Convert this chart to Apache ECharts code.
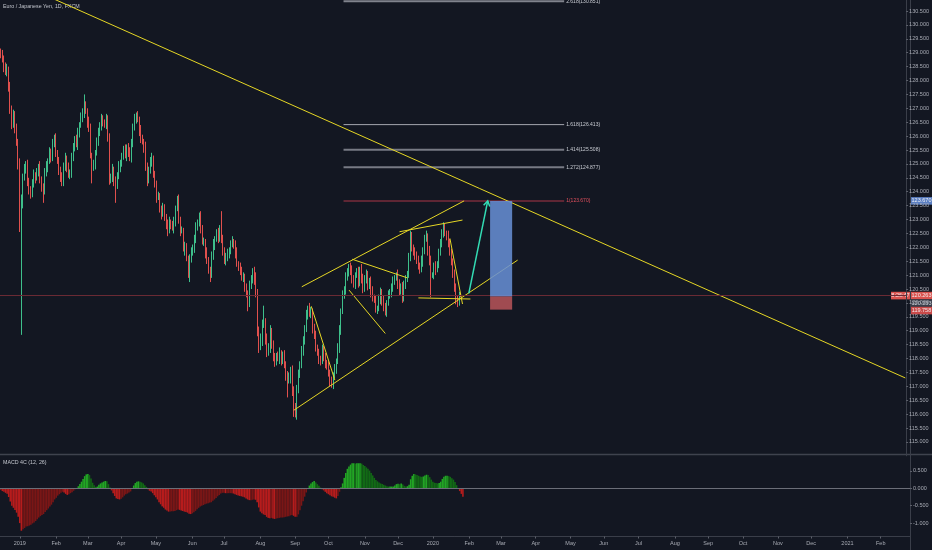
<!DOCTYPE html>
<html><head><meta charset="utf-8">
<script src="https://cdn.jsdelivr.net/npm/echarts@6/dist/echarts.min.js"></script>
<style>html,body{margin:0;padding:0;background:#131722;}#c{width:932px;height:550px;}</style>
</head><body><div id="c"></div><script>
// ---------------- DATA ----------------
const titleText = 'Euro / Japanese Yen, 1D, FXCM';
const macdTitle = 'MACD 4C (12, 26)';
const firstDate = '2018-12-14';
const barsInView = 575;            // trading-day slots shown on the time axis
const firstOpen = 129.0;
const closes = [
128.9,128.8,128.5,128.3,128.4,127.8,126.9,126.4,126.8,126.3,
125.8,125.0,122.7,123.6,124.5,124.8,125.0,124.3,124.1,123.9,
124.3,124.6,124.5,124.7,124.9,124.4,124.2,124.0,124.7,124.9,
125.1,125.4,125.2,125.8,125.9,125.4,125.1,124.8,124.5,124.3,
124.9,125.2,124.9,124.6,124.7,125.2,125.6,125.9,125.7,126.1,
126.4,126.7,126.8,127.1,126.9,126.5,126.3,125.3,124.9,125.0,
125.4,125.8,126.1,126.4,126.6,126.5,126.4,126.6,126.0,124.4,
124.5,124.8,124.4,124.2,124.6,124.9,125.0,125.3,125.5,125.3,
125.6,125.4,125.2,125.8,126.3,126.6,126.75,126.6,126.2,125.9,
125.8,125.6,124.9,124.4,124.8,125.1,125.2,124.6,124.3,123.8,
123.8,123.4,123.2,123.4,123.1,122.85,122.6,122.9,122.8,122.7,
122.9,123.4,123.7,123.0,122.6,122.6,122.0,122.0,121.6,121.1,
121.6,121.8,122.0,122.3,122.7,122.9,123.1,122.7,122.2,122.2,
121.8,121.5,121.2,121.0,121.7,122.1,122.3,122.5,122.3,122.7,
122.3,121.9,121.5,121.6,121.8,121.9,122.1,122.2,122.1,121.8,
121.4,121.3,121.2,120.9,120.9,120.6,120.3,120.0,120.6,120.9,
121.1,120.8,120.3,119.0,118.5,118.6,119.2,119.3,118.7,118.2,
118.4,119.0,118.5,118.0,117.9,118.1,118.0,118.2,117.9,118.1,
117.8,117.4,117.2,117.3,117.6,116.8,116.3,116.0,116.9,117.4,
117.8,118.3,118.6,119.1,119.6,119.8,119.6,119.7,119.1,118.8,
118.4,118.2,118.0,117.9,118.3,118.1,117.8,117.7,117.5,117.2,
117.1,117.4,117.6,117.9,118.4,119.0,119.7,120.3,120.5,120.9,
121.1,121.3,121.2,120.8,120.7,121.0,121.1,120.7,121.2,120.9,
120.5,120.9,121.0,120.6,120.8,120.4,120.2,120.1,119.8,119.8,
120.1,120.4,120.1,119.8,119.7,120.0,120.3,120.4,120.5,120.8,
120.9,121.0,120.7,120.4,120.6,120.2,120.6,120.9,121.0,121.7,
122.4,122.0,121.8,121.7,121.6,121.3,121.2,121.5,121.9,122.3,
122.4,121.9,121.5,121.0,121.0,121.3,121.2,121.4,121.8,122.2,
122.5,122.7,122.5,122.4,122.2,121.8,121.5,121.0,120.6,120.1,
120.0,120.3,120.263];
const upperWicks = [
0.15,0.2,0.1,0.15,0.2,0.1,0.15,0.2,0.15,0.1,
0.15,0.1,0.2,0.3,0.15,0.2,0.1,0.15,0.2,0.1,
0.15,0.2,0.1,0.15,0.1,0.2,0.15,0.1,0.15,0.2,
0.1,0.2,0.15,0.1,0.15,0.2,0.1,0.15,0.1,0.2,
0.15,0.2,0.1,0.15,0.1,0.2,0.15,0.1,0.15,0.2,
0.1,0.15,0.2,0.4,0.15,0.1,0.2,0.15,0.1,0.15,
0.1,0.15,0.2,0.1,0.2,0.15,0.1,0.2,0.15,0.1,
0.15,0.2,0.1,0.15,0.1,0.2,0.15,0.1,0.15,0.2,
0.1,0.15,0.2,0.1,0.15,0.2,0.1,0.15,0.1,0.2,
0.15,0.1,0.2,0.15,0.1,0.15,0.2,0.1,0.15,0.1,
0.2,0.15,0.1,0.2,0.15,0.1,0.15,0.2,0.1,0.15,
0.2,0.1,0.15,0.2,0.1,0.15,0.1,0.2,0.15,0.1,
0.15,0.2,0.1,0.15,0.2,0.1,0.15,0.2,0.1,0.15,
0.1,0.2,0.15,0.1,0.15,0.2,0.1,0.15,0.2,0.1,
0.6,0.15,0.1,0.2,0.15,0.1,0.15,0.2,0.1,0.15,
0.2,0.1,0.15,0.1,0.2,0.15,0.1,0.15,0.2,0.1,
0.15,0.2,0.3,0.2,0.15,0.3,0.2,0.6,0.15,0.2,
0.15,0.2,0.1,0.15,0.2,0.1,0.15,0.2,0.1,0.15,
0.2,0.1,0.15,0.2,0.1,0.15,0.2,0.1,0.15,0.2,
0.1,0.15,0.2,0.1,0.15,0.1,0.2,0.15,0.1,0.15,
0.2,0.1,0.15,0.1,0.2,0.15,0.1,0.15,0.2,0.1,
0.15,0.1,0.2,0.1,0.15,0.2,0.1,0.15,0.1,0.2,
0.15,0.1,0.15,0.15,0.2,0.1,0.15,0.2,0.1,0.2,
0.15,0.1,0.2,0.15,0.1,0.15,0.2,0.1,0.15,0.1,
0.2,0.15,0.1,0.15,0.2,0.1,0.15,0.1,0.2,0.15,
0.1,0.1,0.2,0.15,0.1,0.15,0.2,0.1,0.15,0.1,
0.2,0.15,0.1,0.2,0.15,0.1,0.15,0.2,0.1,0.15,
0.2,0.1,0.15,0.2,0.1,0.15,0.2,0.1,0.15,0.1,
0.15,0.2,0.15,0.1,0.2,0.1,0.15,0.1,0.2,0.1,
0.15,0.1,0.05];
const lowerWicks = [
0.1,0.15,0.2,0.1,0.15,0.2,0.1,0.15,0.1,0.2,
0.15,0.2,0.15,3.85,0.2,0.1,0.15,0.1,0.2,0.15,
0.1,0.15,0.2,0.1,0.15,0.1,0.2,0.4,0.1,0.15,
0.2,0.1,0.15,0.1,0.2,0.15,0.1,0.2,0.15,0.1,
0.1,0.15,0.2,0.1,0.15,0.2,0.1,0.15,0.1,0.2,
0.15,0.1,0.2,0.15,0.1,0.2,0.15,0.1,0.6,0.15,
0.2,0.1,0.15,0.1,0.2,0.15,0.1,0.15,0.2,0.15,
0.1,0.15,0.2,0.6,0.1,0.15,0.2,0.1,0.15,0.1,
0.2,0.15,0.1,0.15,0.2,0.1,0.15,0.1,0.2,0.15,
0.1,0.2,0.15,0.2,0.1,0.15,0.2,0.1,0.15,0.2,
0.1,0.15,0.2,0.1,0.15,0.2,0.2,0.1,0.15,0.1,
0.2,0.15,0.1,0.15,0.2,0.1,0.15,0.3,0.1,0.2,
0.35,0.15,0.1,0.2,0.15,0.1,0.15,0.2,0.1,0.15,
0.2,0.1,0.15,0.25,0.1,0.15,0.2,0.1,0.15,0.1,
0.15,0.2,0.1,0.15,0.1,0.2,0.15,0.1,0.15,0.2,
0.1,0.15,0.2,0.1,0.15,0.2,0.1,0.3,0.15,0.1,
0.2,0.15,0.1,0.2,0.3,0.2,0.15,0.1,0.2,0.15,
0.1,0.2,0.15,0.1,0.2,0.15,0.1,0.2,0.15,0.1,
0.15,0.2,0.6,0.1,0.2,0.15,0.4,0.12,0.2,0.15,
0.1,0.15,0.2,0.1,0.15,0.2,0.1,0.15,0.2,0.1,
0.15,0.1,0.2,0.15,0.1,0.2,0.15,0.1,0.15,0.2,
0.15,0.2,0.1,0.15,0.1,0.2,0.15,0.1,0.15,0.2,
0.1,0.15,0.2,0.1,0.15,0.2,0.1,0.15,0.1,0.2,
0.15,0.1,0.2,0.15,0.1,0.2,0.15,0.1,0.15,0.2,
0.1,0.15,0.2,0.1,0.15,0.2,0.1,0.15,0.2,0.1,
0.15,0.1,0.2,0.15,0.1,0.2,0.15,0.1,0.15,0.1,
0.2,0.15,0.1,0.15,0.2,0.1,0.15,0.1,0.2,0.15,
0.1,0.2,0.15,0.8,0.1,0.15,0.2,0.1,0.15,0.1,
0.2,0.15,0.1,0.15,0.2,0.1,0.15,0.1,0.2,0.15,
0.15,0.1,0.05];
const macdValues = [
-0.05,-0.08,-0.10,-0.13,-0.16,-0.25,-0.38,-0.50,-0.56,-0.62,
-0.70,-0.82,-1.00,-1.22,-1.18,-1.14,-1.10,-1.09,-1.07,-1.05,
-1.01,-0.98,-0.94,-0.89,-0.84,-0.80,-0.77,-0.74,-0.68,-0.63,
-0.58,-0.52,-0.47,-0.40,-0.32,-0.27,-0.21,-0.17,-0.13,-0.10,
-0.12,-0.16,-0.19,-0.17,-0.14,-0.11,-0.07,-0.03,0.01,0.06,
0.12,0.19,0.27,0.35,0.40,0.41,0.38,0.28,0.16,0.09,
0.04,0.05,0.10,0.14,0.17,0.19,0.21,0.20,0.12,0.02,
-0.06,-0.14,-0.22,-0.29,-0.31,-0.32,-0.30,-0.26,-0.21,-0.17,
-0.15,-0.12,-0.09,0.01,0.08,0.15,0.19,0.20,0.19,0.17,
0.14,0.09,0.04,-0.03,-0.07,-0.09,-0.14,-0.20,-0.26,-0.32,
-0.40,-0.46,-0.52,-0.56,-0.61,-0.64,-0.67,-0.67,-0.66,-0.66,
-0.65,-0.63,-0.61,-0.62,-0.64,-0.65,-0.67,-0.68,-0.70,-0.73,
-0.74,-0.72,-0.69,-0.65,-0.60,-0.56,-0.52,-0.50,-0.48,-0.46,
-0.44,-0.43,-0.41,-0.40,-0.36,-0.32,-0.28,-0.23,-0.19,-0.15,
-0.13,-0.13,-0.14,-0.14,-0.14,-0.14,-0.14,-0.15,-0.17,-0.19,
-0.21,-0.22,-0.23,-0.24,-0.26,-0.29,-0.32,-0.34,-0.34,-0.33,
-0.32,-0.33,-0.40,-0.55,-0.67,-0.72,-0.75,-0.77,-0.82,-0.85,
-0.86,-0.85,-0.87,-0.88,-0.87,-0.86,-0.85,-0.84,-0.84,-0.83,
-0.82,-0.81,-0.80,-0.78,-0.77,-0.79,-0.82,-0.82,-0.75,-0.63,
-0.50,-0.37,-0.24,-0.12,0.00,0.08,0.14,0.18,0.21,0.17,
0.12,0.07,0.02,-0.03,-0.06,-0.10,-0.14,-0.17,-0.20,-0.23,
-0.24,-0.27,-0.29,-0.22,-0.10,0.03,0.14,0.30,0.44,0.56,
0.63,0.68,0.72,0.72,0.71,0.72,0.72,0.72,0.71,0.67,
0.64,0.60,0.56,0.51,0.44,0.37,0.30,0.24,0.20,0.17,
0.14,0.12,0.10,0.08,0.06,0.05,0.05,0.05,0.05,0.08,
0.12,0.13,0.12,0.14,0.11,0.07,0.05,0.06,0.10,0.26,
0.36,0.41,0.40,0.38,0.36,0.34,0.33,0.34,0.37,0.39,
0.38,0.32,0.25,0.19,0.16,0.15,0.14,0.15,0.19,0.27,
0.33,0.36,0.36,0.35,0.33,0.29,0.25,0.18,0.09,0.01,
-0.08,-0.16,-0.24];
const monthLabels = ['2019','Feb','Mar','Apr','May','Jun','Jul','Aug','Sep','Oct','Nov','Dec',
  '2020','Feb','Mar','Apr','May','Jun','Jul','Aug','Sep','Oct','Nov','Dec','2021','Feb'];
const lastPrice = 120.263;
const countdownText = '8:26:47';
const fibRatios = [1, 1.272, 1.414, 1.618, 2.618];
const fibPrices = [123.670, 124.877, 125.508, 126.413, 130.851];
const fibDates = ['2019-10-16', '2020-04-28'];
const positionDates = ['2020-02-24', '2020-03-12'];
const positionPrices = [120.233, 123.670, 119.758];   // entry, target, stop
const arrowPoints = [['2020-02-04', 120.34], ['2020-02-20', 123.67]];
const trendLines = [
  [['2019-01-28', 131.00], ['2021-02-25', 117.30]],
  [['2019-09-09', 120.58], ['2020-01-30', 123.67]],
  [['2019-09-02', 116.14], ['2020-03-18', 121.54]],
  [['2019-09-17', 119.88], ['2019-10-08', 117.22]],
  [['2019-10-23', 121.57], ['2019-12-11', 120.90]],
  [['2019-10-21', 120.46], ['2019-11-21', 118.90]],
  [['2019-12-04', 122.56], ['2020-01-29', 122.98]],
  [['2020-01-17', 122.32], ['2020-01-29', 119.96]],
  [['2019-12-20', 120.18], ['2020-02-05', 120.14]]
];

// ---------------- BUILD ----------------
const categories = [];
(function () {
  const p = firstDate.split('-').map(Number);
  const d = new Date(Date.UTC(p[0], p[1] - 1, p[2]));
  while (categories.length < barsInView) {
    const wd = d.getUTCDay();
    if (wd !== 0 && wd !== 6) categories.push(d.toISOString().slice(0, 10));
    d.setUTCDate(d.getUTCDate() + 1);
  }
})();
const at = (date) => { const i = categories.indexOf(date); if (i < 0) throw new Error('date not on axis: ' + date); return i; };

const monthLabelAt = {};
(function () {
  let k = 0;
  for (let i = 1; i < categories.length; i++) {
    if (categories[i].slice(0, 7) !== categories[i - 1].slice(0, 7)) {
      if (k < monthLabels.length) monthLabelAt[i] = monthLabels[k];
      k++;
    }
  }
})();

const candles = closes.map((c, i) => {
  const o = i ? closes[i - 1] : firstOpen;
  return [o, c, Math.min(o, c) - lowerWicks[i], Math.max(o, c) + upperWicks[i]];
});

const MACD_UP_RISE = '#22a524', MACD_UP_FALL = '#126a15', MACD_DN_FALL = '#b71c1c', MACD_DN_RISE = '#7a1616';
const macdBars = macdValues.map((v, i) => {
  const prev = i ? macdValues[i - 1] : v;
  let col;
  if (v >= 0) col = v >= prev ? MACD_UP_RISE : MACD_UP_FALL;
  else col = v < prev ? MACD_DN_FALL : MACD_DN_RISE;
  return { value: v, itemStyle: { color: col } };
});

const FONT = '"Liberation Sans",Arial,sans-serif';
const AXIS_TEXT = '#a9acb5';
const LINE_COL = '#3a3e49';
const YELLOW = '#e6d725';
const fibLineColors = ['#7a2c3b', '#777a84', '#777a84', '#a4a7b0', '#80838d'];
const fibLineWidths = [1.5, 2, 2, 1, 2];
const fibTextColors = ['#e0505e', '#c9ccd3', '#c9ccd3', '#c9ccd3', '#c9ccd3'];

const chart = echarts.init(document.getElementById('c'), null, { renderer: 'canvas' });

const grids = [
  { left: 0, right: 22, top: 0, height: 455.8 },
  { left: 0, right: 22, top: 453.5, height: 87 },
  { left: 0, right: 22, top: 453.5, height: 83 }
];
const catAxis = (gi, extra) => Object.assign({
  type: 'category', gridIndex: gi, data: categories, boundaryGap: true,
  axisLine: { show: false }, axisTick: { show: false }, axisLabel: { show: false }, splitLine: { show: false }
}, extra || {});

const option = {
  backgroundColor: '#131722',
  animation: false,
  grid: grids,
  xAxis: [
    catAxis(0),
    catAxis(1),
    catAxis(2, {
      axisLine: { show: true, lineStyle: { color: LINE_COL, width: 1 } },
      axisTick: { show: true, length: 2, alignWithLabel: true, interval: (i) => monthLabelAt[i] !== undefined, lineStyle: { color: '#5d606b' } },
      axisLabel: { show: true, interval: (i) => monthLabelAt[i] !== undefined, formatter: (v, i) => monthLabelAt[i] || '',
        color: AXIS_TEXT, fontSize: 5.5, fontFamily: FONT, margin: 4 }
    })
  ],
  yAxis: [
    { type: 'value', gridIndex: 0, position: 'right', min: 114.5, max: 130.896, interval: 0.5,
      axisLine: { show: true, lineStyle: { color: LINE_COL } },
      axisTick: { show: true, length: 2, lineStyle: { color: '#5d606b' } },
      splitLine: { show: false },
      axisLabel: { color: AXIS_TEXT, fontSize: 5.5, fontFamily: FONT, margin: 3, showMinLabel: false, showMaxLabel: false,
        formatter: (v) => v.toFixed(3) } },
    { type: 'value', gridIndex: 1, position: 'right', min: -1.5, max: 1.0, interval: 0.5,
      axisLine: { show: true, lineStyle: { color: LINE_COL } },
      axisTick: { show: true, length: 2, lineStyle: { color: '#5d606b' } },
      splitLine: { show: false },
      axisLabel: { color: AXIS_TEXT, fontSize: 5.5, fontFamily: FONT, margin: 3, showMinLabel: false, showMaxLabel: false,
        formatter: (v) => v.toFixed(3) } },
    { type: 'value', gridIndex: 2, min: 0, max: 1, show: false }
  ],
  series: [
    {
      type: 'candlestick', xAxisIndex: 0, yAxisIndex: 0, data: candles, barWidth: 0.7, z: 2,
      itemStyle: { color: '#3ebf8b', color0: '#e0504d', borderColor: '#3ebf8b', borderColor0: '#e0504d', borderWidth: 1 },
      markLine: { silent: true, symbol: 'none', label: { show: false },
        lineStyle: { color: '#6a2a34', width: 1, type: 'solid' }, data: [{ yAxis: lastPrice }] }
    },
    {
      type: 'custom', xAxisIndex: 0, yAxisIndex: 0, z: 3, silent: true,
      encode: { x: [0, 1], y: 2 },
      data: fibPrices.map((p) => [at(fibDates[0]), at(fibDates[1]), p]),
      renderItem: (params, api) => {
        const k = params.dataIndex;
        const a = api.coord([api.value(0), api.value(2)]);
        const b = api.coord([api.value(1), api.value(2)]);
        const bw = api.size([1, 0])[0];
        const x1 = a[0] - bw / 2, x2 = b[0] + bw / 2;
        return { type: 'group', children: [
          { type: 'line', shape: { x1: x1, y1: a[1], x2: x2, y2: a[1] }, style: { stroke: fibLineColors[k], lineWidth: fibLineWidths[k] } },
          { type: 'text', x: x2 + 2, y: a[1], style: { text: fibRatios[k] + '(' + fibPrices[k].toFixed(3) + ')',
            fill: fibTextColors[k], font: '5px ' + FONT, verticalAlign: 'middle', align: 'left' } }
        ] };
      }
    },
    ...trendLines.map((seg) => ({
      type: 'line', xAxisIndex: 0, yAxisIndex: 0, z: 4, silent: true, showSymbol: false, symbol: 'none',
      lineStyle: { color: YELLOW, width: 1 },
      data: seg.map((pt) => [at(pt[0]), pt[1]])
    })),
    {
      type: 'custom', xAxisIndex: 0, yAxisIndex: 0, z: 5, silent: true,
      encode: { x: [0, 1], y: [2, 3, 4] },
      data: [[at(positionDates[0]), at(positionDates[1]), positionPrices[0], positionPrices[1], positionPrices[2]]],
      renderItem: (params, api) => {
        const bw = api.size([1, 0])[0];
        const e = api.coord([api.value(0), api.value(2)]);
        const t = api.coord([api.value(0), api.value(3)]);
        const s = api.coord([api.value(0), api.value(4)]);
        const xr = api.coord([api.value(1), api.value(2)]);
        const x0 = e[0] - bw / 2, x1 = xr[0] + bw / 2;
        return { type: 'group', children: [
          { type: 'rect', shape: { x: x0, y: t[1], width: x1 - x0, height: e[1] - t[1] }, style: { fill: 'rgba(104,143,214,0.86)' } },
          { type: 'rect', shape: { x: x0, y: e[1], width: x1 - x0, height: s[1] - e[1] }, style: { fill: 'rgba(184,84,90,0.86)' } }
        ] };
      }
    },
    {
      type: 'custom', xAxisIndex: 0, yAxisIndex: 0, z: 6, silent: true,
      encode: { x: [0, 2], y: [1, 3] },
      data: [[at(arrowPoints[0][0]), arrowPoints[0][1], at(arrowPoints[1][0]), arrowPoints[1][1]]],
      renderItem: (params, api) => {
        const a = api.coord([api.value(0), api.value(1)]);
        const b = api.coord([api.value(2), api.value(3)]);
        const ang = Math.atan2(b[1] - a[1], b[0] - a[0]);
        const L = 6, sp = 0.55;
        const p1 = [b[0] - L * Math.cos(ang - sp), b[1] - L * Math.sin(ang - sp)];
        const p2 = [b[0] - L * Math.cos(ang + sp), b[1] - L * Math.sin(ang + sp)];
        const st = { stroke: '#33dcb4', lineWidth: 1.5, fill: null };
        return { type: 'group', children: [
          { type: 'line', shape: { x1: a[0], y1: a[1], x2: b[0], y2: b[1] }, style: st },
          { type: 'polyline', shape: { points: [p1, b, p2] }, style: st }
        ] };
      }
    },
    {
      type: 'bar', xAxisIndex: 1, yAxisIndex: 1, data: macdBars, barCategoryGap: '0%', barGap: '0%',
      markLine: { silent: true, symbol: 'none', label: { show: false },
        lineStyle: { color: '#6b6e78', width: 1, type: 'solid' }, data: [{ yAxis: 0 }] }
    },
    { type: 'line', xAxisIndex: 2, yAxisIndex: 2, data: [] }
  ]
};
chart.setOption(option);

// price-axis tags placed from the prices through the axis scale
const py = (v) => chart.convertToPixel({ yAxisIndex: 0 }, v);
const yLast = py(lastPrice);
const yEntry = Math.max(py(positionPrices[0]), yLast + 7.5);
const yStop = Math.max(py(positionPrices[2]), yEntry + 7.5);
const tag = (x, y, w, text, bg, fg) => ({
  type: 'group', children: [
    { type: 'rect', shape: { x: x, y: y - 3.8, width: w, height: 7.6 }, style: { fill: bg } },
    { type: 'text', x: x + w / 2, y: y, style: { text: text, fill: fg, font: '5.5px ' + FONT, align: 'center', verticalAlign: 'middle' } }
  ]
});
chart.setOption({
  graphic: [
    { type: 'text', left: 3, top: 4, style: { text: titleText, fill: '#c3c6ce', font: '5.3px ' + FONT } },
    { type: 'text', left: 3, top: 460, style: { text: macdTitle, fill: '#c3c6ce', font: '5.3px ' + FONT } },
    { type: 'line', shape: { x1: 0, y1: 454.5, x2: 932, y2: 454.5 }, style: { stroke: '#3f434e', lineWidth: 1.5 } },
    { type: 'line', shape: { x1: 910.5, y1: 0, x2: 910.5, y2: 550 }, style: { stroke: LINE_COL, lineWidth: 1 } },
    tag(911, py(positionPrices[1]), 21, positionPrices[1].toFixed(3), '#5b7fc2', '#e8ecf5'),
    tag(911, yLast, 21, lastPrice.toFixed(3), '#d9534f', '#f5e8e8'),
    tag(891, yLast, 19, countdownText, '#d9534f', '#f5e8e8'),
    tag(911, yEntry, 21, positionPrices[0].toFixed(3), '#3a3e4a', '#d1d4dc'),
    tag(911, yStop, 21, positionPrices[2].toFixed(3), '#c94a4a', '#f5e8e8')
  ]
});
</script></body></html>
